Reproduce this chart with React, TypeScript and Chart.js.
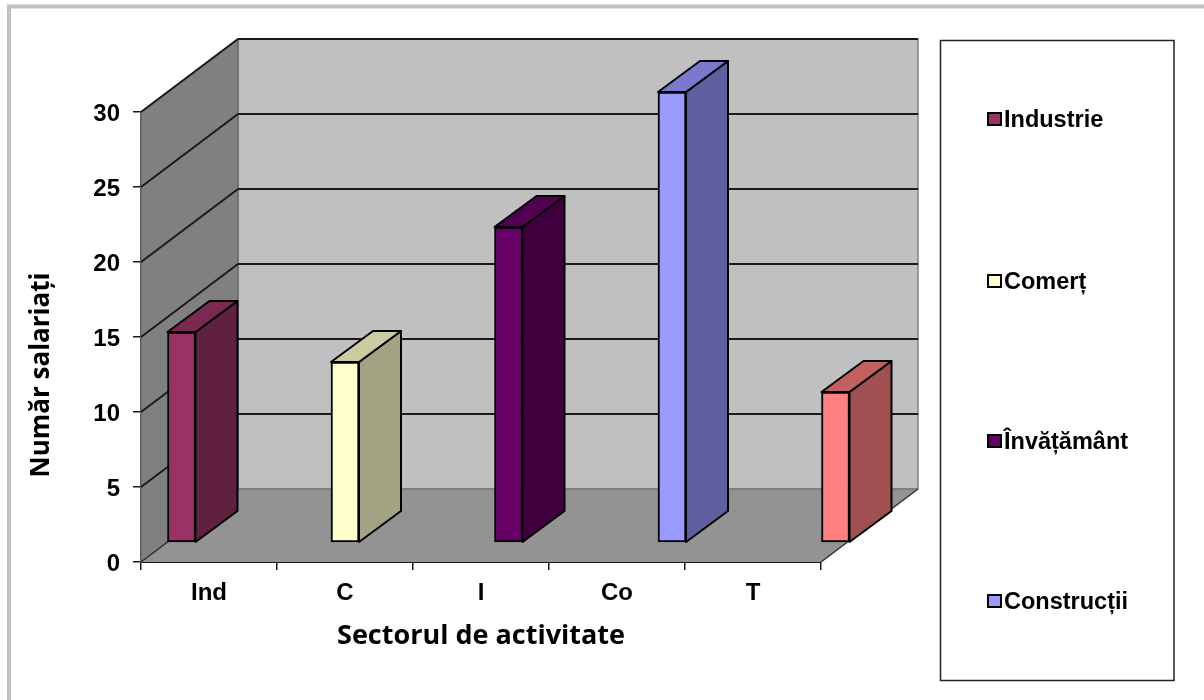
import React, { useEffect, useRef } from "react";
import { Chart, registerables } from "chart.js";

Chart.register(...registerables);

const categories = ["Ind", "C", "I", "Co", "T"];
const seriesValues = [14, 12, 21, 30, 10];
const legendNames = ["Industrie", "Comerț", "Învățământ", "Construcții"];
const frontColors = ["#993366", "#FFFFCC", "#660066", "#9999FF", "#FF8080"];
const sideColors = ["#602040", "#A3A382", "#400040", "#6060A0", "#A05050"];
const topColors = ["#7A2952", "#CCCCA3", "#520052", "#7A7ACC", "#C06060"];
const yTitle = "Număr salariați";
const xTitle = "Sectorul de activitate";

const W = 1204;
const H = 700;
const AREA = { left: 141, right: 821, top: 112, bottom: 562 };
const WALL_DX = 97;
const WALL_DY = -73;
const BAR_DX = 42;
const BAR_DY = -31;
const BAR_STEP = 163.5;
const BAR_FIRST = 181.5;
const BAR_LIFT = 20;
const UNIT = 15;
const LINE = "#1a1a1a";

function poly(ctx: CanvasRenderingContext2D, pts: number[][], fill?: string, stroke?: string, lw = 2) {
  ctx.beginPath();
  pts.forEach((p, i) => (i ? ctx.lineTo(p[0], p[1]) : ctx.moveTo(p[0], p[1])));
  ctx.closePath();
  if (fill) {
    ctx.fillStyle = fill;
    ctx.fill();
  }
  if (stroke) {
    ctx.strokeStyle = stroke;
    ctx.lineWidth = lw;
    ctx.lineJoin = "round";
    ctx.stroke();
  }
}

function line(ctx: CanvasRenderingContext2D, x1: number, y1: number, x2: number, y2: number, c: string, lw: number) {
  ctx.beginPath();
  ctx.moveTo(x1, y1);
  ctx.lineTo(x2, y2);
  ctx.strokeStyle = c;
  ctx.lineWidth = lw;
  ctx.stroke();
}

const scene3d = {
  id: "scene3d",
  beforeDraw(chart: any) {
    const ctx: CanvasRenderingContext2D = chart.ctx;
    ctx.save();
    ctx.fillStyle = "#ffffff";
    ctx.fillRect(0, 0, W, H);
    // page frame
    line(ctx, 9, 6.5, 9, H, "#c0c0c0", 4);
    line(ctx, 7, 6.5, W, 6.5, "#c0c0c0", 4);
    ctx.restore();
  },
  beforeDatasetsDraw(chart: any) {
    const ctx: CanvasRenderingContext2D = chart.ctx;
    const { left, right, top, bottom } = chart.chartArea;
    const y = chart.scales.y;
    ctx.save();
    // back wall
    poly(ctx, [
      [left + WALL_DX, top + WALL_DY],
      [right + WALL_DX, top + WALL_DY],
      [right + WALL_DX, bottom + WALL_DY],
      [left + WALL_DX, bottom + WALL_DY],
    ], "#c0c0c0", "#808080", 1.5);
    // left wall
    poly(ctx, [
      [left, top],
      [left + WALL_DX, top + WALL_DY],
      [left + WALL_DX, bottom + WALL_DY],
      [left, bottom],
    ], "#808080", "#6a6a6a", 1.5);
    // floor
    poly(ctx, [
      [left, bottom],
      [right, bottom],
      [right + WALL_DX, bottom + WALL_DY],
      [left + WALL_DX, bottom + WALL_DY],
    ], "#939393");
    line(ctx, left + WALL_DX, bottom + WALL_DY, right + WALL_DX, bottom + WALL_DY, "#7a7a7a", 1.5);
    line(ctx, right, bottom, right + WALL_DX, bottom + WALL_DY, "#303030", 1.5);
    // grid
    for (const t of y.ticks) {
      const py = y.getPixelForValue(t.value);
      if (t.value !== 0) {
        line(ctx, left, py, left + WALL_DX, py + WALL_DY, LINE, 2);
        line(ctx, left + WALL_DX, py + WALL_DY, right + WALL_DX, py + WALL_DY, LINE, 2);
      } else {
        line(ctx, left, py, left + WALL_DX, py + WALL_DY, "#303030", 1.5);
      }
    }
    ctx.restore();
  },
  afterDatasetsDraw(chart: any) {
    const ctx: CanvasRenderingContext2D = chart.ctx;
    const bars = chart.getDatasetMeta(0).data;
    ctx.save();
    bars.forEach((b: any, i: number) => {
      const r = b.x + b.width / 2;
      const l = b.x - b.width / 2;
      poly(ctx, [
        [r, b.y],
        [r + BAR_DX, b.y + BAR_DY],
        [r + BAR_DX, b.base + BAR_DY],
        [r, b.base],
      ], sideColors[i], "#000000", 2);
      poly(ctx, [
        [l, b.y],
        [l + BAR_DX, b.y + BAR_DY],
        [r + BAR_DX, b.y + BAR_DY],
        [r, b.y],
      ], topColors[i], "#000000", 2);
    });
    ctx.restore();
  },
  afterDraw(chart: any) {
    const ctx: CanvasRenderingContext2D = chart.ctx;
    const { left, right } = chart.chartArea;
    ctx.save();
    ctx.fillStyle = "#000000";
    ctx.textBaseline = "middle";
    // axis titles
    ctx.textAlign = "center";
    ctx.font = 'bold 27px "Open Sans"';
    ctx.fillText(xTitle, (left + right) / 2, 636);
    ctx.save();
    ctx.translate(42, 375);
    ctx.rotate(-Math.PI / 2);
    ctx.font = 'bold 26px "Open Sans"';
    ctx.fillText(yTitle, 0, 0);
    ctx.restore();
    // legend
    ctx.strokeStyle = "#222222";
    ctx.lineWidth = 1.5;
    ctx.strokeRect(940.5, 40.5, 233.5, 640);
    const rows = [119, 281, 441, 601];
    ctx.textAlign = "left";
    ctx.font = 'bold 23.5px "Liberation Sans"';
    legendNames.forEach((name, i) => {
      ctx.fillStyle = frontColors[i];
      ctx.fillRect(988, rows[i] - 6, 13, 12);
      ctx.strokeStyle = "#000000";
      ctx.lineWidth = 2;
      ctx.strokeRect(988, rows[i] - 6, 13, 12);
      ctx.fillStyle = "#000000";
      ctx.fillText(name, 1004, rows[i] + 1.5);
    });
    ctx.restore();
  },
};

export default function App() {
  const ref = useRef<HTMLCanvasElement>(null);
  useEffect(() => {
    const tickFont = { family: '"Liberation Sans"', size: 24, weight: "bold" as const };
    const chart = new Chart(ref.current!, {
      type: "bar",
      data: {
        labels: categories,
        datasets: [
          {
            data: seriesValues.map((v, i) => ({ x: i, y: v })) as any,
            xAxisID: "xBars",
            yAxisID: "yBars",
            backgroundColor: frontColors,
            borderColor: "#000000",
            borderWidth: 2,
            borderSkipped: false,
            barThickness: 28,
            clip: false as any,
          },
        ],
      },
      options: {
        responsive: false,
        animation: false,
        layout: { padding: { left: 0, top: AREA.top, right: W - AREA.right, bottom: 0 } },
        plugins: { legend: { display: false }, title: { display: false }, tooltip: { enabled: false } },
        scales: {
          x: {
            type: "category",
            position: "bottom",
            offset: true,
            afterFit: (s: any) => {
              s.height = H - AREA.bottom;
            },
            grid: { offset: true, drawOnChartArea: false, color: LINE, tickLength: 8, lineWidth: 1.5 },
            border: { color: LINE, width: 2 },
            ticks: { color: "#000000", font: tickFont, padding: 9, maxRotation: 0, autoSkip: false },
          },
          y: {
            type: "linear",
            position: "left",
            min: 0,
            max: 30,
            afterFit: (s: any) => {
              s.width = AREA.left;
            },
            grid: { drawOnChartArea: false, color: LINE, tickLength: 8, lineWidth: 1.5 },
            border: { color: "#303030", width: 2.5 },
            ticks: { stepSize: 5, color: "#000000", font: tickFont, padding: 13, labelOffset: 2 },
          },
          xBars: {
            type: "linear",
            display: false,
            position: "bottom",
            offset: false,
            grid: { offset: false },
            min: (AREA.left - BAR_FIRST) / BAR_STEP,
            max: (AREA.right - BAR_FIRST) / BAR_STEP,
          },
          yBars: {
            type: "linear",
            display: false,
            position: "left",
            min: -BAR_LIFT / UNIT,
            max: 30 - BAR_LIFT / UNIT,
          },
        },
      },
      plugins: [scene3d],
    });
    return () => chart.destroy();
  }, []);
  return (
    <div style={{ position: "fixed", left: 0, top: 0, width: W, height: H, background: "#fff" }}>
      <canvas ref={ref} width={W} height={H} style={{ display: "block", filter: "blur(0.5px)" }} />
    </div>
  );
}
